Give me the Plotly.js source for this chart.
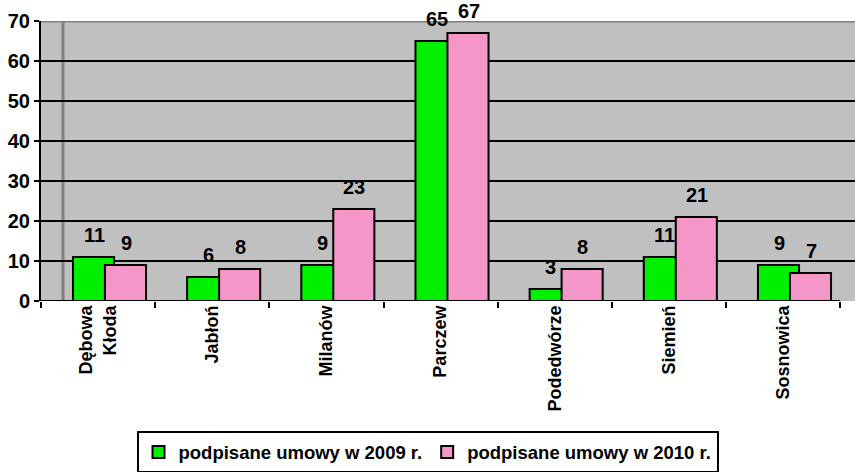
<!DOCTYPE html>
<html>
<head>
<meta charset="utf-8">
<script src="https://cdn.plot.ly/plotly-3.0.1.min.js"></script>
<style>html,body{margin:0;padding:0;background:#fff;}#chart{width:855px;height:472px;}</style>
</head>
<body>
<div id="chart"></div>
<script>
var categories = ["Dębowa<br>Kłoda", "Jabłoń", "Milanów", "Parczew", "Podedwórze", "Siemień", "Sosnowica"];
var series2009 = [11, 6, 9, 65, 3, 11, 9];
var series2010 = [9, 8, 23, 67, 8, 21, 7];
var seriesNames = ["podpisane umowy w 2009 r.", "podpisane umowy w 2010 r."];
var yTicks = [0, 10, 20, 30, 40, 50, 60, 70];

var FONT = "Liberation Sans, Arial, sans-serif";
var barW = 0.36;

var traces = [
  {type: "bar", name: seriesNames[0], x: categories, y: series2009,
   width: barW, offset: -0.22,
   marker: {color: "#00f000", line: {color: "#000", width: 2}}, hoverinfo: "x+y"},
  {type: "bar", name: seriesNames[1], x: categories, y: series2010,
   width: barW, offset: 0.06,
   marker: {color: "#f596c8", line: {color: "#000", width: 2}}, hoverinfo: "x+y"}
];

var annotations = [];
categories.forEach(function (c, i) {
  annotations.push({x: c, y: series2009[i], xref: "x", yref: "y", text: String(series2009[i]),
    showarrow: false, xshift: -4, yanchor: "bottom", yshift: 9,
    font: {family: FONT, size: 20, color: "#000", weight: "bold"}});
  annotations.push({x: c, y: series2010[i], xref: "x", yref: "y", text: String(series2010[i]),
    showarrow: false, xshift: 28, yanchor: "bottom", yshift: 9,
    font: {family: FONT, size: 20, color: "#000", weight: "bold"}});
});

var shapes = [
  {type: "rect", xref: "paper", yref: "paper", x0: 0, x1: 1, y0: 0, y1: 1,
   fillcolor: "#c0c0c0", line: {width: 0}, layer: "below"},
  {type: "line", xref: "x", yref: "paper", xsizemode: "pixel", xanchor: -0.5, x0: 22, x1: 22,
   y0: 0, y1: 1, line: {color: "#808080", width: 3}, layer: "below"},
  {type: "line", xref: "paper", yref: "y", x0: 0, x1: 1, y0: 70, y1: 70,
   line: {color: "#808080", width: 3}, layer: "above"},
  {type: "line", xref: "x", yref: "y", x0: -0.5, x1: 6.5, y0: 0, y1: 0,
   line: {color: "#000", width: 2}, layer: "above"}
];

var layout = {
  width: 855, height: 472,
  margin: {l: 41, r: 0, t: 21, b: 171},
  paper_bgcolor: "#ffffff", plot_bgcolor: "rgba(0,0,0,0)",
  barmode: "overlay",
  showlegend: true,
  font: {family: FONT, color: "#000"},
  xaxis: {
    type: "category", range: [-0.5, 6.63], tickson: "boundaries",
    ticks: "outside", ticklen: 6, tickwidth: 2, tickcolor: "#000",
    tickangle: -90, showgrid: false, showline: false, zeroline: false,
    tickfont: {family: FONT, size: 18, color: "#000", weight: "bold"}, fixedrange: true
  },
  yaxis: {
    range: [0, 70], tickvals: yTicks, ticks: "outside", ticklen: 5, tickwidth: 2, tickcolor: "#000",
    showline: true, linecolor: "#000", linewidth: 2, showgrid: true, gridcolor: "#000", gridwidth: 2,
    zeroline: false, tickfont: {family: FONT, size: 20, color: "#000", weight: "bold"}, fixedrange: true
  },
  legend: {
    orientation: "h", x: 0.5, xanchor: "center", xref: "container",
    y: 0.086, yanchor: "top", yref: "container",
    bgcolor: "#fff", bordercolor: "#000", borderwidth: 2,
    font: {family: FONT, size: 18.5, color: "#000", weight: "bold"},
    itemwidth: 30, tracegroupgap: 0
  },
  shapes: shapes,
  annotations: annotations
};

Plotly.newPlot("chart", traces, layout, {displayModeBar: false, staticPlot: true});
</script>
</body>
</html>
